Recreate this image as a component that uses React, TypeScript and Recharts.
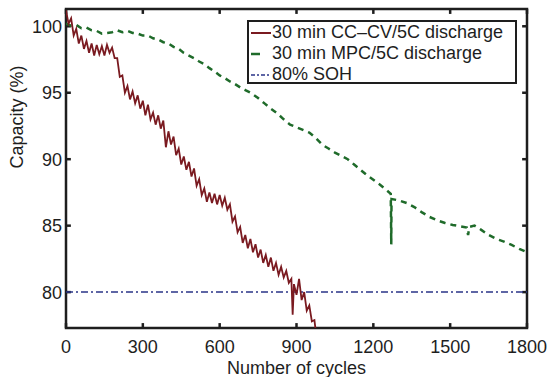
import { Line, LineChart, ReferenceArea, ReferenceLine, XAxis, YAxis } from "recharts";

// capacity (%) vs cycle
const ccCvCycles = [
  0, 10, 20, 30, 40, 50, 60, 70, 80, 90, 100, 110, 120, 130, 140, 150, 160, 170, 180, 190,
  200, 210, 220, 230, 240, 250, 260, 270, 280, 290, 300, 310, 320, 330, 340, 350, 360, 370, 380, 390,
  400, 410, 420, 430, 440, 450, 460, 470, 480, 490, 500, 510, 520, 530, 540, 550, 560, 570, 580, 590,
  600, 610, 620, 630, 640, 650, 660, 670, 680, 690, 700, 710, 720, 730, 740, 750, 760, 770, 780, 790,
  800, 810, 820, 830, 840, 850, 860, 870, 880, 885, 890, 900, 910, 920, 930, 940, 950, 960, 970, 975,
];
const ccCvCapacity = [
  101.2, 100.2, 100.6, 99.3, 99.8, 98.7, 99.3, 98.3, 98.9, 98.0, 98.7, 97.8, 98.6, 97.9, 98.5, 97.8, 98.6, 98.0, 98.4, 97.6,
  97.6, 96.2, 96.3, 95.0, 95.5, 94.5, 95.1, 94.2, 94.8, 93.8, 94.4, 93.3, 94.1, 93.0, 93.5, 92.6, 93.3, 92.3, 92.9, 90.9,
  92.1, 91.1, 91.7, 90.3, 90.8, 89.6, 90.2, 89.2, 89.8, 88.7, 89.3, 88.0, 88.5, 87.3, 87.8, 86.8, 87.5, 86.7, 87.4, 86.6,
  87.3, 86.5, 87.1, 86.2, 86.6, 85.3, 85.7, 84.5, 84.9, 83.7, 84.3, 83.3, 84.0, 83.0, 83.6, 82.6, 83.2, 82.2, 82.8, 81.9,
  82.6, 81.6, 82.2, 81.3, 81.9, 81.1, 81.6, 80.7, 81.0, 78.3, 80.6, 79.8, 81.0, 79.4, 80.0, 78.6, 79.0, 77.8, 77.9, 77.1,
];

const mpcCycles = [
  0, 20, 40, 60, 80, 100, 120, 140, 160, 180, 200, 220, 240, 260, 280, 300, 320, 340, 360, 380,
  400, 420, 440, 460, 480, 500, 520, 540, 560, 580, 600, 620, 640, 660, 680, 700, 725, 750, 775, 800,
  825, 850, 875, 900, 925, 950, 975, 1000, 1025, 1050, 1075, 1100, 1125, 1150, 1175, 1200, 1225, 1250, 1268, 1270,
  1271, 1300, 1330, 1360, 1390, 1420, 1450, 1480, 1510, 1540, 1565, 1570, 1575, 1595, 1620, 1650, 1680, 1710, 1740, 1770,
  1800,
];
const mpcCapacity = [
  100.2, 100.05, 100.1, 99.85, 99.9, 99.7, 99.65, 99.45, 99.5, 99.55, 99.7, 99.55, 99.65, 99.5, 99.45, 99.3, 99.3, 99.1, 99.0, 98.8,
  98.7, 98.45, 98.3, 98.0, 97.8, 97.6, 97.35, 97.15, 96.85, 96.6, 96.3, 96.1, 95.85, 95.65, 95.4, 95.2, 94.95, 94.6, 94.2, 93.8,
  93.45, 93.0, 92.6, 92.4, 92.2, 92.0, 91.6, 91.1, 90.8, 90.5, 90.25, 90.0, 89.6, 89.2, 88.8, 88.45, 88.1, 87.7, 87.4, 83.6,
  87.0, 86.9, 86.7, 86.4, 86.0, 85.65, 85.4, 85.2, 85.05, 84.95, 84.85, 84.3, 84.9, 85.0, 84.7, 84.3, 84.0, 83.8, 83.55, 83.25,
  83.0,
];

const sohCycles = [0, 1800];
const sohCapacity = [80, 80];

const xTicks = [0, 300, 600, 900, 1200, 1500, 1800];
const yTicks = [80, 85, 90, 95, 100];
const xDomain = [0, 1800];
const yDomain = [77.3, 101.3];

const ccCvData = ccCvCycles.map((x, i) => ({ x, y: ccCvCapacity[i] }));
const mpcData = mpcCycles.map((x, i) => ({ x, y: mpcCapacity[i] }));
const sohData = sohCycles.map((x, i) => ({ x, y: sohCapacity[i] }));

const FONT = "'Liberation Sans', Arial, sans-serif";
const INK = "#1e1e1e";
const RED = "#7a1a20";
const GREEN = "#1f6b2a";
const BLUE = "#2a3588";
const FS = 18;

// inward tick length, in data units (about 5px each way)
const X_TICK_LEN = 19;
const Y_TICK_LEN = 0.37;

const legendRows = [
  { name: "30 min CC\u2013CV/5C discharge", color: RED, dash: undefined, width: 2 },
  { name: "30 min MPC/5C discharge", color: GREEN, dash: "9 20", width: 2.5 },
  { name: "80% SOH", color: BLUE, dash: "4 2 2 2", width: 1.5 },
];

const LegendBox = () => (
  <div
    style={{
      position: "absolute",
      left: 247,
      top: 20,
      width: 266,
      height: 60,
      border: `2.5px solid ${INK}`,
      background: "#fff",
      fontFamily: FONT,
      fontSize: FS,
      color: INK,
      boxSizing: "content-box",
    }}
  >
    {legendRows.map((r) => (
      <div key={r.name} style={{ display: "flex", alignItems: "center", height: 21, whiteSpace: "nowrap" }}>
        <svg width={22} height={10} style={{ marginLeft: 1, flex: "none" }}>
          <line x1={1} x2={21} y1={5} y2={5} stroke={r.color} strokeWidth={r.width} strokeDasharray={r.dash} />
        </svg>
        <span style={{ lineHeight: "21px" }}>{r.name}</span>
      </div>
    ))}
  </div>
);

const tickStyle = { fill: INK, fontSize: FS, fontFamily: FONT };

export default function App() {
  return (
    <div style={{ position: "absolute", left: 0, top: 0, width: 548, height: 377, background: "#fff" }}>
      <LineChart
        width={548}
        height={377}
        margin={{ top: 9, right: 21, bottom: 0, left: 0 }}
      >
        <XAxis
          xAxisId="b"
          dataKey="x"
          type="number"
          domain={xDomain}
          ticks={xTicks}
          allowDataOverflow
          height={49}
          stroke={INK}
          tickLine={false}
          axisLine={false}
          tickSize={0}
          tickMargin={12}
          tick={tickStyle}
          label={{ value: "Number of cycles", position: "insideBottom", offset: 0, dy: -3, fill: INK, fontSize: FS, fontFamily: FONT }}
        />
        <YAxis
          yAxisId="l"
          dataKey="y"
          type="number"
          domain={yDomain}
          ticks={yTicks}
          allowDataOverflow
          width={66}
          stroke={INK}
          tickLine={false}
          axisLine={false}
          tickSize={0}
          tickMargin={4}
          tick={tickStyle}
          label={{ value: "Capacity (%)", angle: -90, position: "insideLeft", offset: 17, fill: INK, fontSize: FS, fontFamily: FONT }}
        />
        {xTicks.map((t) => (
          <ReferenceLine
            key={`xb${t}`}
            xAxisId="b"
            yAxisId="l"
            segment={[{ x: t, y: yDomain[0] }, { x: t, y: yDomain[0] + Y_TICK_LEN }]}
            stroke={INK}
            strokeWidth={2.5}
            ifOverflow="visible"
          />
        ))}
        {xTicks.map((t) => (
          <ReferenceLine
            key={`xt${t}`}
            xAxisId="b"
            yAxisId="l"
            segment={[{ x: t, y: yDomain[1] }, { x: t, y: yDomain[1] - Y_TICK_LEN }]}
            stroke={INK}
            strokeWidth={2.5}
            ifOverflow="visible"
          />
        ))}
        {yTicks.map((t) => (
          <ReferenceLine
            key={`yl${t}`}
            xAxisId="b"
            yAxisId="l"
            segment={[{ x: xDomain[0], y: t }, { x: xDomain[0] + X_TICK_LEN, y: t }]}
            stroke={INK}
            strokeWidth={2.5}
            ifOverflow="visible"
          />
        ))}
        {yTicks.map((t) => (
          <ReferenceLine
            key={`yr${t}`}
            xAxisId="b"
            yAxisId="l"
            segment={[{ x: xDomain[1], y: t }, { x: xDomain[1] - X_TICK_LEN, y: t }]}
            stroke={INK}
            strokeWidth={2.5}
            ifOverflow="visible"
          />
        ))}
        <Line
          xAxisId="b"
          yAxisId="l"
          data={sohData}
          dataKey="y"
          name="80% SOH"
          stroke={BLUE}
          strokeWidth={1.5}
          strokeDasharray="7 3 2 3"
          dot={false}
          type="linear"
          isAnimationActive={false}
        />
        <Line
          xAxisId="b"
          yAxisId="l"
          data={mpcData}
          dataKey="y"
          name="30 min MPC/5C discharge"
          stroke={GREEN}
          strokeWidth={2.5}
          strokeDasharray="6 5"
          dot={false}
          type="linear"
          isAnimationActive={false}
        />
        <Line
          xAxisId="b"
          yAxisId="l"
          data={ccCvData}
          dataKey="y"
          name="30 min CC-CV/5C discharge"
          stroke={RED}
          strokeWidth={1.8}
          dot={false}
          type="linear"
          isAnimationActive={false}
        />
        <ReferenceArea
          xAxisId="b"
          yAxisId="l"
          x1={xDomain[0]}
          x2={xDomain[1]}
          y1={yDomain[0]}
          y2={yDomain[1]}
          fill="none"
          fillOpacity={0}
          stroke={INK}
          strokeWidth={2.5}
          ifOverflow="visible"
        />
      </LineChart>
      <LegendBox />
    </div>
  );
}
